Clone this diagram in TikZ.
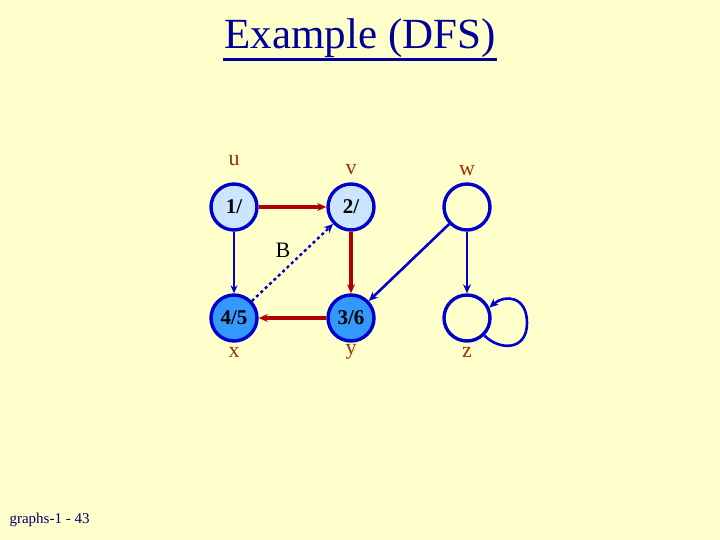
\documentclass[tikz,border=0pt]{standalone}
\usepackage{fontspec}
\setmainfont{Liberation Serif}
\usetikzlibrary{arrows.meta}
\definecolor{bg}{HTML}{FFFFCC}
\definecolor{nodeb}{HTML}{0000CC}
\definecolor{lightf}{HTML}{CCE5FF}
\definecolor{darkf}{HTML}{3399FF}
\definecolor{lab}{HTML}{993300}
\definecolor{redE}{HTML}{B00000}
\definecolor{titlec}{HTML}{000099}
\begin{document}
\begin{tikzpicture}[x=1pt,y=-1pt,
  vert/.style={circle,draw=nodeb,line width=3.4pt,minimum size=46pt,inner sep=0pt,font=\fontsize{21}{21}\selectfont\bfseries},
  lbl/.style={text=lab,font=\fontsize{22}{22}\selectfont},
  tree/.style={draw=redE,line width=3.4pt,-{Stealth[length=9pt,width=8pt]}},
  other/.style={draw=nodeb,line width=2.6pt,-{Stealth[length=9pt,width=8pt]}}]
\fill[bg] (0,0) rectangle (720,540);
\useasboundingbox (0,0) rectangle (720,540);
\node[text=titlec,font=\fontsize{43}{43}\selectfont] (title) at (360,38) {Example (DFS)};
\draw[titlec,line width=3pt] (title.south west) ++(2,-2) -- ([xshift=-2pt,yshift=2pt]title.south east);
\node[vert,fill=lightf] (u) at (234,207) {1/};
\node[vert,fill=lightf] (v) at (351,207) {2/};
\node[vert,fill=none] (w) at (467,207) {};
\node[vert,fill=darkf] (x) at (234,318) {4/5};
\node[vert,fill=darkf] (y) at (351,318) {3/6};
\node[vert,fill=none] (z) at (467,318) {};
\node[lbl] (lu) at (234,161) {u};
\node[lbl] (lv) at (351,170) {v};
\node[lbl] (lw) at (467,171) {w};
\node[lbl] (lx) at (234,352) {x};
\node[lbl] (ly) at (351,352) {y};
\node[lbl] (lz) at (467,352) {z};
\node[font=\fontsize{22}{22}\selectfont] (B) at (283,250) {B};
\coordinate (loopR) at (527,323);
\draw[tree] (u) -- (v);
\draw[tree] (v) -- (y);
\draw[tree] (y) -- (x);
\draw[draw=nodeb,line width=1.2pt,-{Stealth[length=8pt,width=7pt]}] (u) -- (x);
\draw[other,dashed,line width=2.4pt] (x) -- (v);
\draw[other] (w) -- (y);
\draw[other] (w) -- (z);
\draw[other] (z.-45) .. controls (498,350) and (527,352) .. (loopR) .. controls (527,296) and (505,294) .. (z.25);
\node[text=titlec!70!black,font=\fontsize{15}{15}\selectfont,anchor=west] (foot) at (6,520) {graphs-1 - 43};
\end{tikzpicture}
\end{document}
